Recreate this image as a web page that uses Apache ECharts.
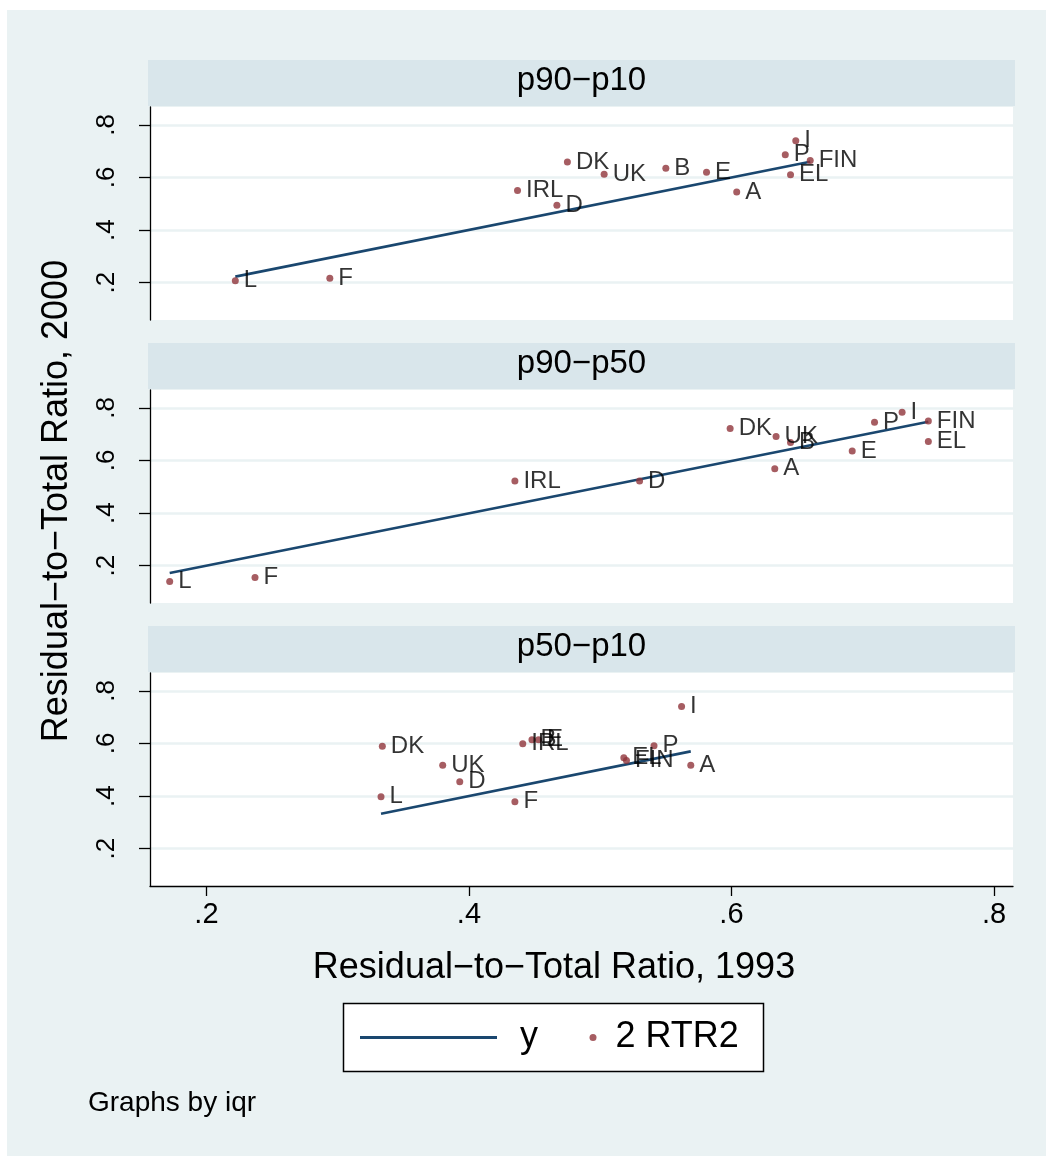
<!DOCTYPE html>
<html>
<head>
<meta charset="utf-8">
<title>Residual-to-Total Ratio, 1993 vs 2000</title>
<script src="https://cdn.jsdelivr.net/npm/echarts@6/dist/echarts.min.js"></script>
<style>
  html, body { margin: 0; padding: 0; background: #ffffff; }
  #chart { width: 1053px; height: 1158px; }
</style>
</head>
<body>
<div id="chart"></div>
<script>
// Panel headings (one panel per inter-quantile range)
const panelTitles = ['p90\u2212p10', 'p90\u2212p50', 'p50\u2212p10'];

// Shared axis ticks
const tickValues = [0.2, 0.4, 0.6, 0.8];
const tickLabels = ['.2', '.4', '.6', '.8'];

// p90-p10
const names_p90p10   = ['L', 'F', 'IRL', 'D', 'DK', 'UK', 'B', 'E', 'A', 'I', 'P', 'FIN', 'EL'];
const rtr1993_p90p10 = [0.222, 0.294, 0.437, 0.467, 0.475, 0.503, 0.550, 0.581, 0.604, 0.649, 0.641, 0.660, 0.645];
const rtr2000_p90p10 = [0.207, 0.217, 0.550, 0.494, 0.659, 0.612, 0.635, 0.620, 0.545, 0.740, 0.686, 0.665, 0.610];
const lineX_p90p10   = [0.222, 0.660];
const lineY_p90p10   = [0.223, 0.660];

// p90-p50
const names_p90p50   = ['L', 'F', 'IRL', 'D', 'DK', 'UK', 'B', 'A', 'E', 'P', 'I', 'FIN', 'EL'];
const rtr1993_p90p50 = [0.172, 0.237, 0.435, 0.530, 0.599, 0.634, 0.645, 0.633, 0.692, 0.709, 0.730, 0.750, 0.750];
const rtr2000_p90p50 = [0.140, 0.155, 0.522, 0.522, 0.722, 0.691, 0.668, 0.569, 0.636, 0.745, 0.783, 0.750, 0.672];
const lineX_p90p50   = [0.172, 0.750];
const lineY_p90p50   = [0.172, 0.747];

// p50-p10
const names_p50p10   = ['L', 'DK', 'UK', 'D', 'F', 'IRL', 'B', 'E', 'EL', 'FIN', 'P', 'I', 'A'];
const rtr1993_p50p10 = [0.333, 0.334, 0.380, 0.393, 0.435, 0.441, 0.448, 0.453, 0.518, 0.520, 0.541, 0.562, 0.569];
const rtr2000_p50p10 = [0.397, 0.589, 0.517, 0.454, 0.378, 0.599, 0.614, 0.614, 0.546, 0.535, 0.591, 0.741, 0.517];
const lineX_p50p10   = [0.333, 0.569];
const lineY_p50p10   = [0.333, 0.570];

const panels = [
  { title: panelTitles[0], names: names_p90p10, x: rtr1993_p90p10, y: rtr2000_p90p10, lx: lineX_p90p10, ly: lineY_p90p10 },
  { title: panelTitles[1], names: names_p90p50, x: rtr1993_p90p50, y: rtr2000_p90p50, lx: lineX_p90p50, ly: lineY_p90p50 },
  { title: panelTitles[2], names: names_p50p10, x: rtr1993_p50p10, y: rtr2000_p50p10, lx: lineX_p50p10, ly: lineY_p50p10 }
];

const FONT = '"Liberation Sans", Arial, Helvetica, sans-serif';
const BG = '#eaf2f3';
const STRIP = '#d9e6eb';
const NAVY = '#1a476f';
const MAROON = '#90353b';

const plotLeft = 150, plotWidth = 863, plotHeight = 213;
const plotTops = [107, 390, 673];
const stripHeight = 46;

const tickFmt = v => {
  const i = tickValues.findIndex(t => Math.abs(t - v) < 1e-9);
  return i >= 0 ? tickLabels[i] : '';
};

const grids = [], xAxes = [], yAxes = [], series = [];
panels.forEach((p, i) => {
  const last = i === panels.length - 1;
  grids.push({
    left: plotLeft, top: plotTops[i], width: plotWidth, height: plotHeight,
    show: true, backgroundColor: '#ffffff', borderWidth: 0
  });
  xAxes.push({
    type: 'value', gridIndex: i, min: 0.157, max: 0.8145,
    axisLine: { show: last, onZero: false, lineStyle: { color: '#000', width: 1.3 } },
    axisTick: { show: last, customValues: tickValues, length: 10, lineStyle: { color: '#000', width: 1.3 } },
    axisLabel: { show: last, customValues: tickValues, formatter: tickFmt, margin: 14,
                 color: '#000', fontSize: 29, fontFamily: FONT },
    splitLine: { show: false }
  });
  yAxes.push({
    type: 'value', gridIndex: i, min: 0.058, max: 0.868,
    axisLine: { show: true, onZero: false, lineStyle: { color: '#000', width: 1.3 } },
    axisTick: { show: true, customValues: tickValues, length: 11, lineStyle: { color: '#000', width: 1.3 } },
    axisLabel: { show: true, customValues: tickValues, formatter: tickFmt, rotate: 90, margin: 30,
                 color: '#000', fontSize: 26, fontFamily: FONT },
    splitLine: { show: true, lineStyle: { color: BG, width: 2.5 } }
  });
  series.push({
    name: 'y', type: 'line', xAxisIndex: i, yAxisIndex: i,
    data: p.lx.map((x, k) => [x, p.ly[k]]),
    showSymbol: false, symbol: 'none',
    lineStyle: { color: NAVY, width: 2.6 }, itemStyle: { color: NAVY },
    z: 2, silent: true
  });
  series.push({
    name: '2 RTR2', type: 'scatter', xAxisIndex: i, yAxisIndex: i,
    data: p.x.map((x, k) => ({ value: [x, p.y[k]], name: p.names[k] })),
    symbol: 'circle', symbolSize: 7,
    itemStyle: { color: MAROON },
    label: { show: true, position: 'right', distance: 5, formatter: '{b}',
             color: '#000', fontSize: 24, fontFamily: FONT },
    z: 3, silent: true
  });
});

const graphics = [
  { type: 'rect', z: -100, shape: { x: 7, y: 10, width: 1039, height: 1146 }, style: { fill: BG } }
];
panels.forEach((p, i) => {
  const top = plotTops[i] - stripHeight - 1;
  graphics.push({ type: 'rect', z: -50, shape: { x: 148, y: top, width: 867, height: stripHeight }, style: { fill: STRIP } });
  graphics.push({ type: 'text', z: 10, x: plotLeft + plotWidth / 2, y: top + stripHeight / 2 - 2,
    style: { text: p.title, fill: '#000', font: '33px ' + FONT, textAlign: 'center', textVerticalAlign: 'middle' } });
});
// axis titles
graphics.push({ type: 'text', z: 10, x: 57, y: 501, rotation: Math.PI / 2,
  style: { text: 'Residual\u2212to\u2212Total Ratio, 2000', fill: '#000', font: '36px ' + FONT, textAlign: 'center', textVerticalAlign: 'middle' } });
graphics.push({ type: 'text', z: 10, x: 554, y: 968,
  style: { text: 'Residual\u2212to\u2212Total Ratio, 1993', fill: '#000', font: '36px ' + FONT, textAlign: 'center', textVerticalAlign: 'middle' } });
// legend frame
graphics.push({ type: 'rect', z: -20, shape: { x: 343.5, y: 1003.5, width: 420, height: 68 },
  style: { fill: '#ffffff', stroke: '#000', lineWidth: 1.5 } });
// note
graphics.push({ type: 'text', z: 10, x: 88, y: 1103,
  style: { text: 'Graphs by iqr', fill: '#000', font: '28px ' + FONT, textAlign: 'left', textVerticalAlign: 'middle' } });

const chart = echarts.init(document.getElementById('chart'));
chart.setOption({
  animation: false,
  backgroundColor: '#ffffff',
  grid: grids,
  xAxis: xAxes,
  yAxis: yAxes,
  legend: [
    { data: [{ name: 'y', icon: 'rect', itemStyle: { color: NAVY } }], left: 355, top: 1014.5,
      itemWidth: 137, itemHeight: 3, selectedMode: false,
      textStyle: { color: '#000', fontSize: 36, fontFamily: FONT, padding: [0, 0, 0, 18] } },
    { data: [{ name: '2 RTR2', icon: 'circle' }], left: 584.5, top: 1014.5,
      itemWidth: 7, itemHeight: 7, selectedMode: false,
      textStyle: { color: '#000', fontSize: 36, fontFamily: FONT, padding: [0, 0, 0, 14] } }
  ],
  graphic: graphics,
  series: series
});
</script>
</body>
</html>
